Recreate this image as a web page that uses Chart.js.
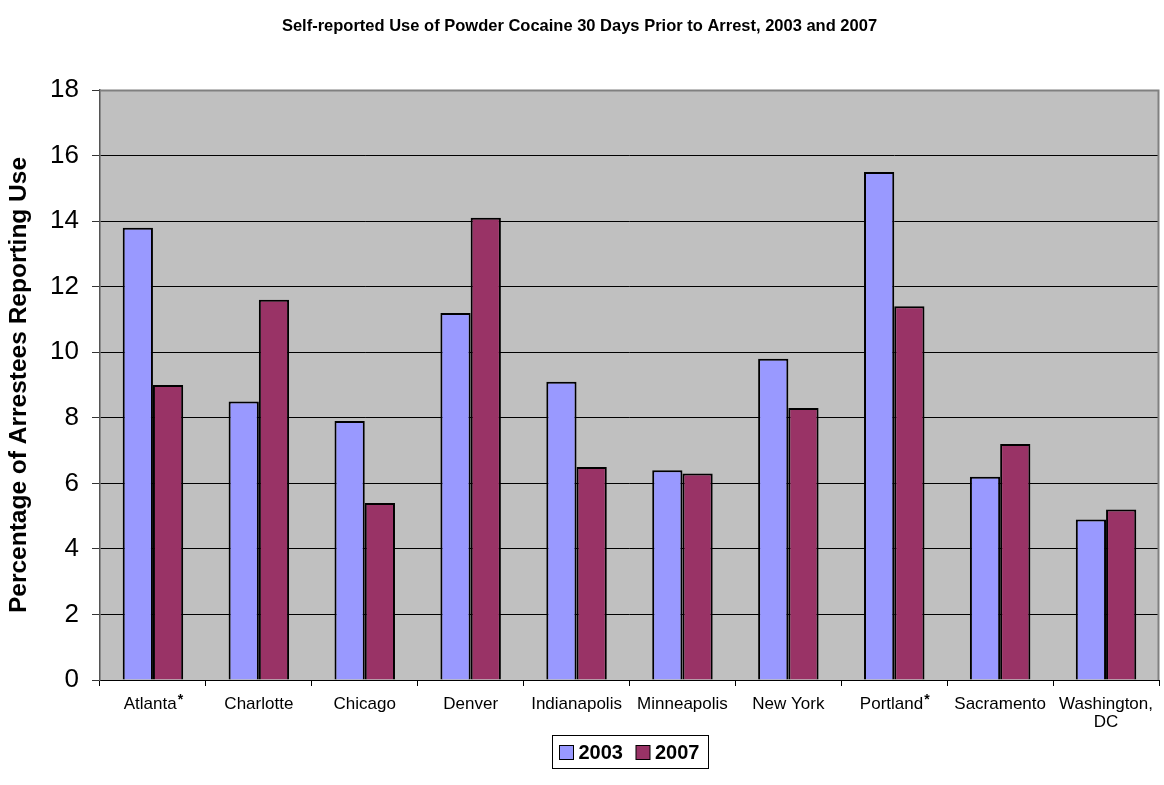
<!DOCTYPE html>
<html>
<head>
<meta charset="utf-8">
<script src="https://cdn.jsdelivr.net/npm/chart.js@4.4.0/dist/chart.umd.min.js"></script>
<style>
  html, body { margin: 0; padding: 0; background: #fff; }
  #wrap { width: 1164px; height: 785px; }
</style>
</head>
<body>
<div id="wrap"><canvas id="grafica" width="1164" height="785"></canvas></div>
<script>
const ciudades = ['Atlanta*', 'Charlotte', 'Chicago', 'Denver', 'Indianapolis', 'Minneapolis', 'New York', 'Portland*', 'Sacramento', 'Washington, DC'];
const valores2003 = [13.8, 8.5, 7.9, 11.2, 9.1, 6.4, 9.8, 15.5, 6.2, 4.9];
const valores2007 = [9.0, 11.6, 5.4, 14.1, 6.5, 6.3, 8.3, 11.4, 7.2, 5.2];
const marcasY = [0, 2, 4, 6, 8, 10, 12, 14, 16, 18];

const fuente = 'Arial, "Liberation Sans", sans-serif';

// fondo gris y bordes del area de trazado
const fondoPlugin = {
  id: 'fondo',
  beforeDraw(chart) {
    const { ctx, chartArea: a } = chart;
    ctx.save();
    ctx.fillStyle = '#c0c0c0';
    ctx.fillRect(a.left, a.top, a.right - a.left, a.bottom - a.top);
    ctx.restore();
  },
  beforeDatasetsDraw(chart) {
    const { ctx, chartArea: a } = chart;
    ctx.save();
    ctx.strokeStyle = '#808080';
    ctx.lineWidth = 2;
    ctx.beginPath();
    ctx.moveTo(a.left, a.top + 0.5);
    ctx.lineTo(a.right - 0.5, a.top + 0.5);
    ctx.lineTo(a.right - 0.5, a.bottom);
    ctx.stroke();
    ctx.restore();
  }
};

// etiquetas del eje x con asterisco en superindice, y la leyenda con recuadro
const etiquetasPlugin = {
  id: 'etiquetas',
  afterDraw(chart) {
    const { ctx } = chart;
    const xs = chart.scales.x;
    ctx.save();
    ctx.fillStyle = '#000';
    ctx.textBaseline = 'middle';
    ctx.textAlign = 'left';
    ciudades.forEach((nombre, i) => {
      const x = xs.getPixelForValue(i);
      const estrella = nombre.endsWith('*');
      const base = estrella ? nombre.slice(0, -1) : nombre;
      const lineas = base === 'Washington, DC' ? ['Washington,', 'DC'] : [base];
      lineas.forEach((linea, j) => {
        ctx.font = '17px ' + fuente;
        const w = ctx.measureText(linea).width;
        let x0 = x - w / 2;
        const y = xs.top + 24 + j * 18;
        if (estrella) {
          ctx.font = 'bold 14px ' + fuente;
          const ws = ctx.measureText('*').width;
          x0 -= ws / 2;
          ctx.fillText('*', x0 + w + 1, y - 4);
          ctx.font = '17px ' + fuente;
        }
        ctx.fillText(linea, x0, y);
      });
    });

    // leyenda
    const ds = chart.data.datasets;
    ctx.font = 'bold 20px ' + fuente;
    const caja = 14, hueco = 5, sep = 13;
    const anchos = ds.map(d => caja + hueco + ctx.measureText(d.label).width);
    const total = Math.round(anchos.reduce((s, w) => s + w, 0) + sep * (ds.length - 1) + 16);
    const centro = (chart.chartArea.left + chart.chartArea.right) / 2;
    const lx = Math.round(centro - total / 2) + 0.5;
    const ly = 735.5, lh = 33;
    ctx.strokeStyle = '#000';
    ctx.lineWidth = 1;
    ctx.strokeRect(lx, ly, total, lh);
    let cx = lx + 7;
    ds.forEach((d, i) => {
      const cy = Math.round(ly + lh / 2 - caja / 2) + 0.5;
      ctx.fillStyle = d.backgroundColor;
      ctx.fillRect(cx, cy, caja, caja);
      ctx.strokeRect(cx, cy, caja, caja);
      ctx.fillStyle = '#000';
      ctx.fillText(d.label, cx + caja + hueco, ly + lh / 2 + 1);
      cx += anchos[i] + sep;
    });
    ctx.restore();
  }
};

const ctx = document.getElementById('grafica').getContext('2d');
const grafica = new Chart(ctx, {
  type: 'bar',
  data: {
    labels: ciudades,
    datasets: [
      {
        label: '2003',
        data: valores2003,
        backgroundColor: '#9999ff',
        borderColor: '#000',
        borderWidth: 2,
        borderSkipped: 'bottom'
      },
      {
        label: '2007',
        data: valores2007,
        backgroundColor: '#993366',
        borderColor: '#000',
        borderWidth: 2,
        borderSkipped: 'bottom'
      }
    ]
  },
  options: {
    responsive: false,
    animation: false,
    devicePixelRatio: 1,
    layout: { padding: { left: 0, right: 5, top: 0, bottom: 0 } },
    datasets: { bar: { categoryPercentage: 0.571, barPercentage: 1 } },
    plugins: {
      legend: { display: false },
      tooltip: { enabled: false },
      title: {
        display: true,
        text: 'Self-reported Use of Powder Cocaine 30 Days Prior to Arrest, 2003 and 2007',
        color: '#000',
        font: { family: fuente, size: 16.5, weight: 'bold' },
        padding: { top: 17, bottom: 53.2 }
      }
    },
    scales: {
      x: {
        offset: true,
        afterFit(scale) { scale.height = 105; },
        grid: { drawOnChartArea: false, offset: true, tickLength: 6, color: '#000' },
        border: { display: true, color: '#000', width: 1 },
        ticks: { display: false }
      },
      y: {
        min: 0,
        max: 18,
        afterFit(scale) { scale.width = 100; },
        afterBuildTicks(scale) { scale.ticks = marcasY.map(v => ({ value: v })); },
        grid: { color: '#000', lineWidth: 1, tickLength: 8, tickColor: '#333' },
        border: { display: true, color: '#555', width: 1.5 },
        ticks: {
          color: '#000',
          padding: 13,
          font: { family: fuente, size: 26 }
        },
        title: {
          display: true,
          text: 'Percentage of Arrestees Reporting Use',
          color: '#000',
          font: { family: fuente, size: 24.5, weight: 'bold' },
          padding: { top: 5, bottom: 0 }
        }
      }
    }
  },
  plugins: [fondoPlugin, etiquetasPlugin]
});
</script>
</body>
</html>
